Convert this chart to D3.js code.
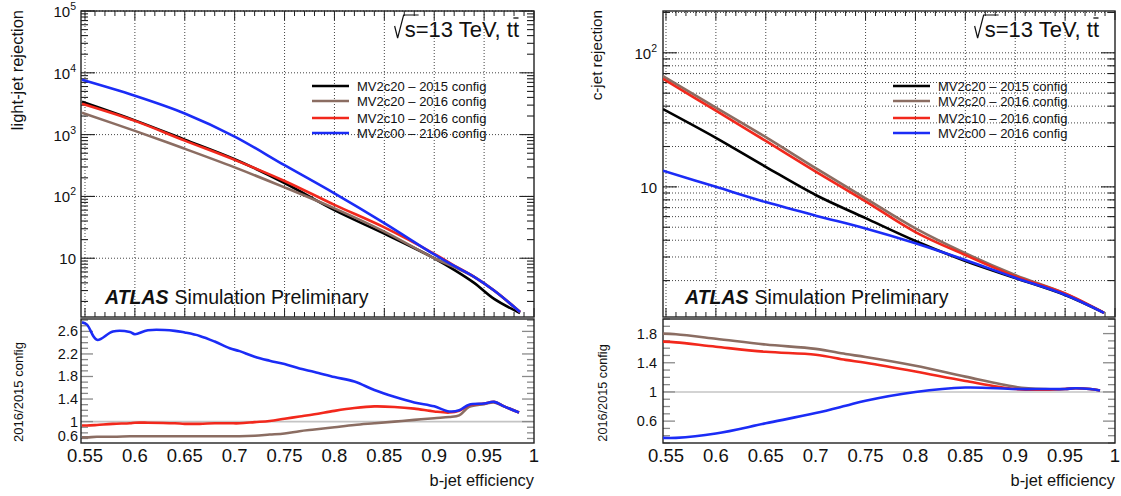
<!DOCTYPE html>
<html lang="en">
<head>
<meta charset="UTF-8">
<title>b-tagging rejection</title>
<script src="https://cdn.jsdelivr.net/npm/d3@7"></script>
<style>
  body { margin: 0; background: #fff; }
  svg { font-family: "Liberation Sans", Arial, Helvetica, sans-serif; }
</style>
</head>
<body>
<svg id="chart" width="1121" height="496"></svg>
<script>

// ---- data ----
var seriesColor = ["#000000", "#8b6d62", "#f2281c", "#1b2cf6"];
var lightNames = ["MV2c20 \u2013 2015 config", "MV2c20 \u2013 2016 config", "MV2c10 \u2013 2016 config", "MV2c00 \u2013 2106 config"];
var charmNames = ["MV2c20 \u2013 2015 config", "MV2c20 \u2013 2016 config", "MV2c10 \u2013 2016 config", "MV2c00 \u2013 2016 config"];

// light-jet rejection vs b-jet efficiency
var effLight = [0.547, 0.6, 0.65, 0.7, 0.75, 0.8, 0.85, 0.9, 0.92, 0.94, 0.96, 0.986];
var lightMV2c20_15 = [3400, 1700, 830, 400, 165, 60, 25, 10, 6.5, 4.0, 2.2, 1.3];
var lightMV2c20_16 = [2250, 1150, 590, 295, 140, 64, 27, 10, 7.2, 5.0, 3.0, 1.35];
var lightMV2c10_16 = [3150, 1670, 800, 390, 178, 73, 31.5, 11.8, 7.6, 5.0, 3.0, 1.35];
var lightMV2c00_16 = [7700, 4250, 2200, 930, 320, 112, 37, 11.5, 7.5, 5.0, 3.0, 1.35];

// ratio to MV2c20 2015 (light)
var effLightRatio = [0.547, 0.552, 0.562, 0.578, 0.595, 0.6, 0.613, 0.64, 0.65, 0.665, 0.68, 0.695, 0.705, 0.72, 0.735, 0.75, 0.765, 0.78, 0.8, 0.82, 0.84, 0.86, 0.88, 0.9, 0.915, 0.925, 0.935, 0.95, 0.96, 0.97, 0.985];
var ratioLightMV2c20_16 = [0.72, 0.72, 0.73, 0.73, 0.74, 0.74, 0.74, 0.74, 0.74, 0.74, 0.74, 0.74, 0.74, 0.75, 0.77, 0.79, 0.83, 0.86, 0.9, 0.94, 0.97, 1.0, 1.03, 1.06, 1.08, 1.11, 1.26, 1.31, 1.34, 1.27, 1.16];
var ratioLightMV2c10_16 = [0.93, 0.93, 0.94, 0.96, 0.97, 0.98, 0.98, 0.97, 0.96, 0.96, 0.97, 0.97, 0.97, 0.99, 1.01, 1.05, 1.09, 1.13, 1.19, 1.24, 1.27, 1.26, 1.23, 1.18, 1.16, 1.19, 1.29, 1.32, 1.35, 1.27, 1.16];
var ratioLightMV2c00_16 = [2.76, 2.72, 2.45, 2.6, 2.59, 2.55, 2.62, 2.61, 2.58, 2.52, 2.42, 2.3, 2.25, 2.15, 2.08, 2.02, 1.94, 1.88, 1.79, 1.71, 1.56, 1.44, 1.34, 1.27, 1.18, 1.2, 1.3, 1.32, 1.35, 1.27, 1.16];

// c-jet rejection vs b-jet efficiency
var effCharm = [0.547, 0.6, 0.65, 0.7, 0.75, 0.8, 0.85, 0.9, 0.95, 0.989];
var charmMV2c20_15 = [38, 23.2, 14.1, 8.7, 5.85, 3.95, 2.8, 2.09, 1.56, 1.15];
var charmMV2c20_16 = [67, 39, 23.5, 13.8, 8.2, 4.9, 3.2, 2.2, 1.6, 1.15];
var charmMV2c10_16 = [64, 37, 22, 13, 7.8, 4.6, 3.1, 2.15, 1.6, 1.15];
var charmMV2c00_16 = [13.2, 10, 7.7, 6.1, 4.9, 3.8, 2.85, 2.1, 1.57, 1.15];

// ratio to MV2c20 2015 (charm)
var effCharmRatio = [0.547, 0.56, 0.6, 0.65, 0.7, 0.73, 0.75, 0.8, 0.85, 0.9, 0.93, 0.95, 0.96, 0.975, 0.985];
var ratioCharmMV2c20_16 = [1.8, 1.79, 1.73, 1.65, 1.59, 1.52, 1.48, 1.36, 1.21, 1.07, 1.04, 1.04, 1.05, 1.04, 1.02];
var ratioCharmMV2c10_16 = [1.69, 1.68, 1.62, 1.55, 1.51, 1.44, 1.4, 1.28, 1.15, 1.04, 1.03, 1.04, 1.05, 1.04, 1.02];
var ratioCharmMV2c00_16 = [0.37, 0.37, 0.43, 0.57, 0.71, 0.81, 0.88, 1.0, 1.06, 1.04, 1.04, 1.04, 1.05, 1.04, 1.02];

var ratioLightLabels = [0.6, 1, 1.4, 1.8, 2.2, 2.6];
var ratioCharmLabels = [0.6, 1, 1.4, 1.8];

var svg = d3.select("#chart");

// ---- scales ----
var xL = d3.scaleLinear().domain([0.546, 1.0]).range([81, 534]);
var yL = d3.scaleLog().domain([1.12, 1e5]).range([317, 11]);
var rL = d3.scaleLinear().domain([0.62, 2.82]).range([443, 319]);

var xR = d3.scaleLinear().domain([0.547, 1.0]).range([663, 1115]);
var yR = d3.scaleLog().domain([1.07, 205]).range([317, 11]);
var rR = d3.scaleLinear().domain([0.3, 2.0]).range([443, 319]);

function zip(xs, ys) { return xs.map(function (x, i) { return [x, ys[i]]; }); }

function logTicks(y) {
  var out = [], d = y.domain();
  for (var e = 0; e <= 5; e++) {
    for (var m = 1; m <= 9; m++) {
      var v = m * Math.pow(10, e);
      if (v >= d[0] && v <= d[1] * 1.0001) out.push({v: v, major: m === 1});
    }
  }
  return out;
}

function line(g, x1, y1, x2, y2, col, w) {
  return g.append("line").attr("x1", x1).attr("y1", y1).attr("x2", x2).attr("y2", y2)
    .attr("stroke", col).attr("stroke-width", w);
}

function xTicks(g, x, yEdge, dir, majLen, minLen) {
  for (var i = 55; i <= 100; i++) {
    var v = i / 100;
    if (v < x.domain()[0]) continue;
    var len = i % 5 === 0 ? majLen : minLen;
    line(g, x(v), yEdge, x(v), yEdge + dir * len, "#222", 1);
  }
}

function curves(g, x, y, xs, list, clipId, order) {
  var lineGen = d3.line().x(function (d) { return x(d[0]); }).y(function (d) { return y(d[1]); })
    .curve(d3.curveCatmullRom.alpha(0.5));
  var cg = g.append("g").attr("clip-path", "url(#" + clipId + ")");
  list.forEach(function (vals, i) {
    cg.append("path").attr("d", lineGen(zip(xs, vals))).attr("fill", "none")
      .attr("stroke", seriesColor[order[i]]).attr("stroke-width", 2.6)
      .attr("stroke-linejoin", "round");
  });
}

function clip(id, x, y) {
  svg.append("clipPath").attr("id", id).append("rect")
    .attr("x", x.range()[0]).attr("y", y.range()[1])
    .attr("width", x.range()[1] - x.range()[0]).attr("height", y.range()[0] - y.range()[1]);
}

function topPanel(x, y, labelX, fullGrid) {
  var g = svg.append("g");
  var x0 = x.range()[0], x1 = x.range()[1], yb = y.range()[0], yt = y.range()[1];
  var ticks = logTicks(y);
  // dotted grid
  for (var i = 55; i < 100; i += 5) {
    line(g, x(i / 100), yt, x(i / 100), yb, "#444", 1).attr("stroke-dasharray", "1,2");
  }
  ticks.forEach(function (t) {
    if (t.major || fullGrid) line(g, x0, y(t.v), x1, y(t.v), "#444", 1).attr("stroke-dasharray", "1,2");
  });
  // y ticks both sides
  ticks.forEach(function (t) {
    var len = t.major ? 14 : 7;
    line(g, x0, y(t.v), x0 + len, y(t.v), "#222", 1.1);
    line(g, x1, y(t.v), x1 - len, y(t.v), "#222", 1.1);
  });
  xTicks(g, x, yt, 1, 9, 5);
  xTicks(g, x, yb, -1, 9, 5);
  // y labels
  ticks.filter(function (t) { return t.major && t.v >= 10; }).forEach(function (t) {
    var e = Math.round(Math.log10(t.v));
    var txt = g.append("text").attr("x", labelX).attr("y", y(t.v) + 6)
      .attr("text-anchor", "end").attr("font-size", 15).attr("fill", "#111");
    txt.append("tspan").text("10");
    if (e > 1) txt.append("tspan").attr("dy", -7).attr("font-size", 10.5).text(e);
  });
  g.append("rect").attr("x", x0).attr("y", yt).attr("width", x1 - x0).attr("height", yb - yt)
    .attr("fill", "none").attr("stroke", "#222").attr("stroke-width", 1.4);
  return g;
}

function ratioPanel(x, r, labels, labelX) {
  var g = svg.append("g");
  var x0 = x.range()[0], x1 = x.range()[1], yb = r.range()[0], yt = r.range()[1];
  line(g, x0, r(1), x1, r(1), "#c4c4c4", 1.6);
  var lo = Math.ceil(r.domain()[0] * 10 - 1e-6), hi = Math.floor(r.domain()[1] * 10 + 1e-6);
  for (var k = lo; k <= hi; k++) {
    var v = k / 10;
    var major = labels.some(function (l) { return Math.abs(l - v) < 1e-6; });
    var len = major ? 12 : 7;
    line(g, x0, r(v), x0 + len, r(v), "#8a8a8a", 1.3);
    line(g, x1, r(v), x1 - len, r(v), "#8a8a8a", 1.3);
  }
  labels.forEach(function (v) {
    g.append("text").attr("x", labelX).attr("y", Math.min(r(v) + 5, 441)).attr("text-anchor", "end")
      .attr("font-size", 14.5).attr("fill", "#111").text(d3.format("")(v));
  });
  // x labels
  for (var i = 55; i <= 100; i += 5) {
    g.append("text").attr("x", x(i / 100)).attr("y", 462).attr("text-anchor", "middle")
      .attr("font-size", 18.5).attr("fill", "#111").text(d3.format("")(i / 100));
  }
  g.append("rect").attr("x", x0).attr("y", yt).attr("width", x1 - x0).attr("height", yb - yt)
    .attr("fill", "none").attr("stroke", "#222").attr("stroke-width", 1.4);
  g.append("text").attr("x", x1).attr("y", 486).attr("text-anchor", "end")
    .attr("font-size", 16.4).attr("fill", "#111").text("b-jet efficiency");
  return g;
}

function legend(g, names, lx, tx, ys) {
  names.forEach(function (n, i) {
    line(g, lx, ys[i], lx + 37, ys[i], seriesColor[i], 2.6);
    g.append("text").attr("x", tx).attr("y", ys[i] + 4.5).attr("font-size", 13)
      .attr("fill", "#111").text(n);
  });
}

function energyLabel(g, xEnd, base) {
  var fs = 22;
  var t = g.append("text").attr("x", xEnd).attr("y", base).attr("text-anchor", "end")
    .attr("font-size", fs).attr("fill", "#111").text("s=13 TeV, tt");
  var w = t.node().getComputedTextLength();
  var sx = xEnd - w;
  var sw = t.node().getSubStringLength(0, 1);
  g.append("path")
    .attr("d", "M" + (sx - 10) + "," + (base - 11) + " L" + (sx - 7) + "," + (base + 1) +
      " L" + (sx - 1) + "," + (base - 22) + " L" + (sx + sw + 3) + "," + (base - 22))
    .attr("fill", "none").attr("stroke", "#111").attr("stroke-width", 1.2);
  var tw = t.node().getSubStringLength(11, 1);
  line(g, xEnd - tw + 0.5, base - 19, xEnd - 0.5, base - 19, "#111", 1.3);
}

function atlasLabel(g, x, base) {
  var t = g.append("text").attr("x", x).attr("y", base).attr("font-size", 19.5).attr("fill", "#111");
  t.append("tspan").attr("font-weight", "bold").attr("font-style", "italic").text("ATLAS");
  t.append("tspan").attr("dx", 6).text("Simulation Preliminary");
}

function yTitle(g, x, y, size, txt, anchor) {
  g.append("text").attr("transform", "translate(" + x + "," + y + ") rotate(-90)")
    .attr("text-anchor", anchor).attr("font-size", size).attr("fill", "#111").text(txt);
}

clip("clipLT", xL, yL);
clip("clipLB", xL, rL);
clip("clipRT", xR, yR);
clip("clipRB", xR, rR);

// ---- left: light-jet rejection ----
var gLT = topPanel(xL, yL, 76, false);
curves(gLT, xL, yL, effLight, [lightMV2c20_15, lightMV2c20_16, lightMV2c10_16, lightMV2c00_16], "clipLT", [0, 1, 2, 3]);
legend(gLT, lightNames, 312, 357, [86, 101, 118, 133]);
energyLabel(gLT, 519, 37);
atlasLabel(gLT, 105, 304);
yTitle(gLT, 23, 10, 16.5, "light-jet rejection", "end");

var gLB = ratioPanel(xL, rL, ratioLightLabels, 78);
curves(gLB, xL, rL, effLightRatio, [ratioLightMV2c20_16, ratioLightMV2c10_16, ratioLightMV2c00_16], "clipLB", [1, 2, 3]);
yTitle(gLB, 23, 392, 13, "2016/2015 config", "middle");

// ---- right: c-jet rejection ----
var gRT = topPanel(xR, yR, 657, true);
curves(gRT, xR, yR, effCharm, [charmMV2c20_15, charmMV2c20_16, charmMV2c10_16, charmMV2c00_16], "clipRT", [0, 1, 2, 3]);
legend(gRT, charmNames, 893, 938, [86, 101, 118, 133]);
energyLabel(gRT, 1099, 37);
atlasLabel(gRT, 685, 304);
yTitle(gRT, 602, 10, 15.2, "c-jet rejection", "end");

var gRB = ratioPanel(xR, rR, ratioCharmLabels, 657);
curves(gRB, xR, rR, effCharmRatio, [ratioCharmMV2c20_16, ratioCharmMV2c10_16, ratioCharmMV2c00_16], "clipRB", [1, 2, 3]);
yTitle(gRB, 607, 393, 12.7, "2016/2015 config", "middle");

</script>
</body>
</html>
